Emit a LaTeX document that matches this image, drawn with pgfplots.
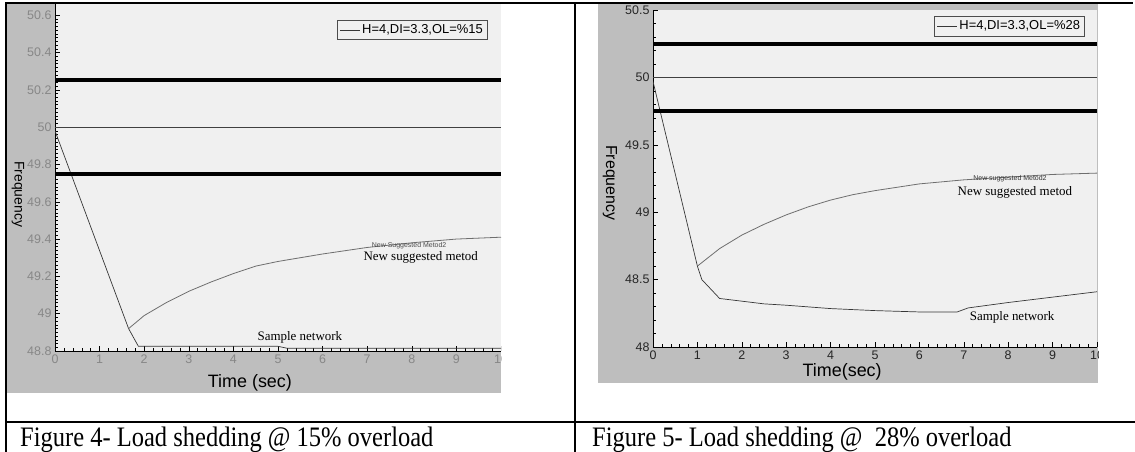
\documentclass[border=0pt]{standalone}
\usepackage{fontspec}
\setmainfont{Liberation Serif}
\newfontfamily\arial{Liberation Sans}
\usepackage{pgfplots}
\pgfplotsset{compat=1.18}
\definecolor{panelgray}{RGB}{190,190,190}
\definecolor{plotbg}{RGB}{240,240,240}
\definecolor{curve}{RGB}{55,55,55}
\definecolor{curvetwo}{RGB}{110,110,110}
\definecolor{ticklbl}{RGB}{135,135,135}

\pgfplotsset{
  panel/.style={
    scale only axis,
    axis lines*=left,
    axis line style={black, line width=0.8bp},
    axis background/.style={fill=plotbg},
    xmin=0, xmax=10,
    xtick={0,1,...,10},
    minor x tick num=4,
    tick align=inside,
    major tick length=5bp,
    minor tick length=3bp,
    every tick/.style={black, line width=0.5bp},
    /pgf/number format/assume math mode=true,
    tick label style={font=\arial\fontsize{12.5}{12.5}\selectfont},
    legend cell align=left,
    legend style={draw=black!70, fill=plotbg, line width=0.5bp,
      font=\arial\fontsize{13}{13}\selectfont, inner sep=2.5bp,
      row sep=0bp, anchor=north west},
    legend image code/.code={\draw[#1, line width=0.6bp] (0bp,0bp) -- (20bp,0bp);},
  }
}

\begin{document}
\begin{tikzpicture}
\useasboundingbox (0bp,0bp) rectangle (1135bp,452bp);
\coordinate (Lsw) at (55bp,101bp);
\coordinate (Rsw) at (653bp,105bp);
% grey screenshot backgrounds
\fill[panelgray] (7bp,59bp) rectangle (501bp,448bp);
\fill[panelgray] (598bp,69bp) rectangle (1098bp,448bp);

% ---------- left panel ----------
\begin{scope}
\clip (7bp,59bp) rectangle (501bp,448bp);
\begin{axis}[panel,
  at={(Lsw)}, anchor=origin,
  width=446bp, height=347bp,
  ymin=48.8, ymax=50.66,
  ytick={48.8,49,49.2,49.4,49.6,49.8,50,50.2,50.4,50.6},
  yticklabels={48.8,49,49.2,49.4,49.6,49.8,50,50.2,50.4,50.6},
  minor y tick num=9,
  tick label style={text=ticklbl},
  xlabel={\arial\fontsize{18}{18}\selectfont Time (sec)},
  xlabel style={at={(axis description cs:0.437,-0.092)}, anchor=center},
  ylabel={\arial\fontsize{14}{14}\selectfont Frequency},
  ylabel style={at={(axis description cs:-0.083,0.452)}, anchor=center, rotate=180},
  legend style={at={(axis description cs:0.632,0.954)}},
]
\addplot[curve, line width=0.7bp] coordinates {
  (0,49.98) (1.65,48.92) (1.87,48.825) (5.0,48.825) (5.2,48.815) (10,48.815)};
\addlegendentry{H=4,DI=3.3,OL=\%15}
\addplot[curvetwo, line width=0.8bp, forget plot] coordinates {
  (1.65,48.92) (2.0,48.99) (2.5,49.06) (3.0,49.12) (3.5,49.17) (4.0,49.215)
  (4.5,49.255) (5.0,49.28) (5.5,49.30) (6.0,49.32) (7.0,49.355) (8.0,49.38)
  (9.0,49.40) (10,49.41)};
\addplot[black, line width=4bp, forget plot] coordinates {(0,50.25) (10,50.25)};
\addplot[black, line width=4bp, forget plot] coordinates {(0,49.75) (10,49.75)};
\addplot[black!75, line width=0.8bp, forget plot] coordinates {(0,50) (10,50)};
\node[font=\arial\fontsize{7}{7}\selectfont, text=black!70] at (axis cs:7.94,49.365) {New Suggested Metod2};
\node[font=\fontsize{13}{13}\selectfont] at (axis cs:8.2,49.30) {New suggested metod};
\node[font=\fontsize{13}{13}\selectfont] at (axis cs:5.49,48.875) {Sample network};
\end{axis}
\end{scope}

% ---------- right panel ----------
\begin{scope}
\clip (598bp,69bp) rectangle (1098bp,448bp);
\begin{axis}[panel,
  at={(Rsw)}, anchor=origin,
  width=444bp, height=337bp,
  ymin=48, ymax=50.5,
  ytick={48,48.5,49,49.5,50,50.5},
  yticklabels={48,48.5,49,49.5,50,50.5},
  minor y tick num=4,
  tick label style={text=black!85},
  xlabel={\arial\fontsize{18}{18}\selectfont Time(sec)},
  xlabel style={at={(axis description cs:0.426,-0.074)}, anchor=center},
  ylabel={\arial\fontsize{16}{16}\selectfont Frequency},
  ylabel style={at={(axis description cs:-0.097,0.487)}, anchor=center, rotate=180},
  legend style={at={(axis description cs:0.633,0.982)}},
]
\addplot[curve, line width=0.7bp] coordinates {
  (0,49.97) (1.0,48.6) (1.1,48.5) (1.5,48.36) (2.0,48.34) (2.5,48.32) (3.0,48.31)
  (4.0,48.285) (5.0,48.27) (6.0,48.26) (6.85,48.26) (7.1,48.29) (8.0,48.33)
  (9.0,48.37) (10,48.41)};
\addlegendentry{H=4,DI=3.3,OL=\%28}
\addplot[curvetwo, line width=0.8bp, forget plot] coordinates {
  (1.0,48.6) (1.5,48.73) (2.0,48.83) (2.5,48.91) (3.0,48.98) (3.5,49.04)
  (4.0,49.09) (4.5,49.13) (5.0,49.16) (6.0,49.21) (7.0,49.24) (8.0,49.26)
  (9.0,49.28) (10,49.29)};
\addplot[black, line width=4bp, forget plot] coordinates {(0,50.25) (10,50.25)};
\addplot[black, line width=4bp, forget plot] coordinates {(0,49.75) (10,49.75)};
\addplot[black!75, line width=0.8bp, forget plot] coordinates {(0,50) (10,50)};
\node[font=\arial\fontsize{7}{7}\selectfont, text=black!80] at (axis cs:8.04,49.245) {New suggested Metod2};
\node[font=\fontsize{13}{13}\selectfont] at (axis cs:8.15,49.15) {New suggested metod};
\node[font=\fontsize{13}{13}\selectfont] at (axis cs:8.09,48.22) {Sample network};
\end{axis}
\end{scope}

% ---------- table frame ----------
\draw[black, line width=2bp] (5bp,449bp) -- (1133bp,449bp);
\draw[black, line width=2bp] (6bp,449bp) -- (6bp,0bp);
\draw[black, line width=2bp] (575bp,449bp) -- (575bp,0bp);
\draw[black, line width=2bp] (5bp,30bp) -- (1135bp,30bp);

% ---------- captions ----------
\node[anchor=base west, inner sep=0pt, yscale=1.15, transform shape, font=\fontsize{24.6}{24.6}\selectfont] at (20bp,6bp) {Figure 4- Load shedding @ 15\% overload};
\node[anchor=base west, inner sep=0pt, yscale=1.15, transform shape, font=\fontsize{24.6}{24.6}\selectfont] at (592bp,6bp) {Figure 5- Load shedding @\ \ 28\% overload};
\end{tikzpicture}
\end{document}
